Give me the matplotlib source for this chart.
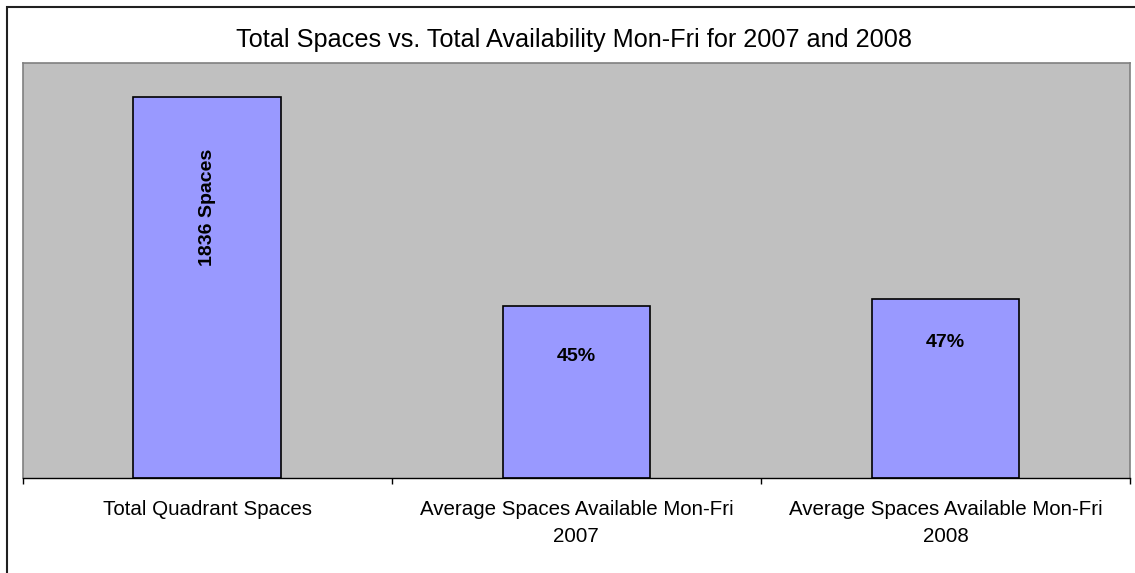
import matplotlib.pyplot as plt
from matplotlib.patches import Rectangle

# Values
categories = ['Total Quadrant Spaces',
              'Average Spaces Available Mon-Fri\n2007',
              'Average Spaces Available Mon-Fri\n2008']
spaces = [1836, 826, 863]
bar_labels = ['1836 Spaces', '45%', '47%']

plt.rcParams['font.family'] = ['Liberation Sans', 'DejaVu Sans']

fig = plt.figure(figsize=(11.35, 5.73), dpi=100)
ax = fig.add_axes([22.7 / 1135, 95 / 573, (1130 - 22.7) / 1135, (478 - 62.7) / 573])
ax.set_facecolor('#C0C0C0')

x = range(len(categories))
bars = ax.bar(x, spaces, width=0.40, color='#9999FF', edgecolor='black', linewidth=1.2, zorder=2)

ax.set_xlim(-0.5, 2.5)
ax.set_ylim(0, 2000)
ax.set_yticks([])

# ticks between categories, labels centred under each bar
ax.set_xticks([-0.5, 0.5, 1.5, 2.5])
ax.set_xticklabels([])
ax.set_xticks(list(x), minor=True)
ax.set_xticklabels(categories, minor=True, fontsize=14.8, linespacing=1.55)
ax.tick_params(axis='x', which='major', direction='out', length=4, width=1, color='black')
ax.tick_params(axis='x', which='minor', length=0, pad=16)

for side in ['left', 'top', 'right']:
    ax.spines[side].set_color('#808080')
    ax.spines[side].set_linewidth(1.2)
ax.spines['bottom'].set_color('black')
ax.spines['bottom'].set_linewidth(1)

# value labels inside the bars
offsets = [-80, -36, -31.5]
rotations = [90, 0, 0]
for b, lab, off, rot in zip(bars, bar_labels, offsets, rotations):
    ax.annotate(lab, (b.get_x() + b.get_width() / 2, b.get_height()),
                xytext=(0, off), textcoords='offset points',
                ha='center', va='center', rotation=rot,
                fontsize=14, fontweight='bold', zorder=3)

fig.text(574 / 1135, 1 - 40 / 573, 'Total Spaces vs. Total Availability Mon-Fri for 2007 and 2008',
         ha='center', va='center', fontsize=18.2)

# chart border (only the top and left edges fall inside the picture)
fig.patches.append(Rectangle((7 / 1135, -0.1), 1.2, 1 - 7 / 573 + 0.1, transform=fig.transFigure,
                             fill=False, edgecolor='#202020', linewidth=1.5))

fig.savefig('out.png', dpi=100)
